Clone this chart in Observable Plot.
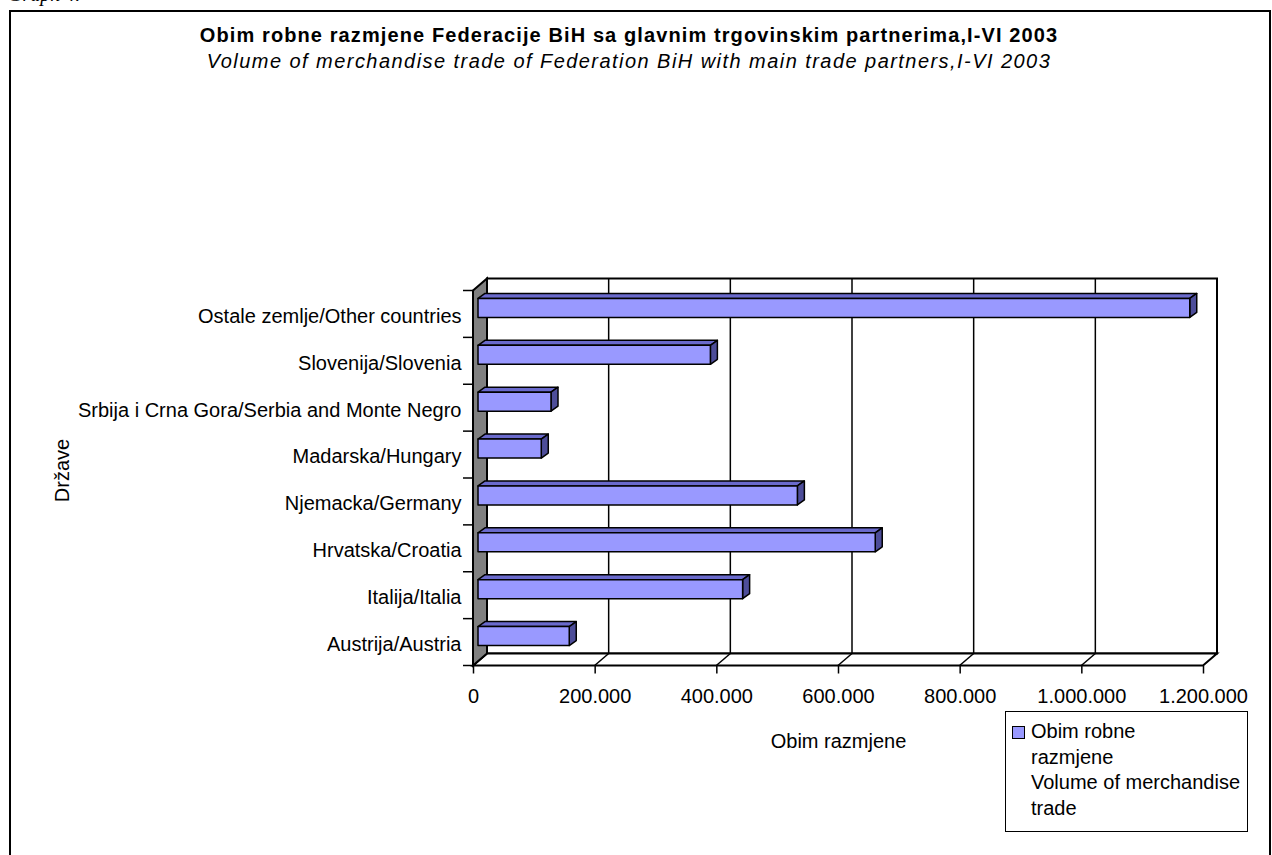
<!DOCTYPE html>
<html>
<head>
<meta charset="utf-8">
<script src="https://cdn.jsdelivr.net/npm/d3@7"></script>
<script src="https://cdn.jsdelivr.net/npm/@observablehq/plot@0.6"></script>
<style>
  html, body { margin: 0; padding: 0; background: #fff; }
  body { font-family: "Liberation Sans", Arial, sans-serif; color: #000; }
  #wrap { position: relative; width: 1272px; height: 855px; overflow: hidden; background: #fff; }
  #frame { position: absolute; left: 9px; top: 10px; width: 1258px; height: 870px; border: 2px solid #000; }
  #graphno { position: absolute; left: 8px; top: -17px; font-family: "Liberation Serif", "Times New Roman", serif; font-style: italic; font-size: 20px; }
  #title { position: absolute; left: 0; width: 1258px; top: 24px; text-align: center; font-weight: bold; font-size: 20px; letter-spacing: 1.1px; }
  #subtitle { position: absolute; left: 0; width: 1258px; top: 50px; text-align: center; font-style: italic; font-size: 20px; letter-spacing: 1.45px; }
  #chart { position: absolute; left: 0; top: 0; }
  #legend { position: absolute; left: 1005px; top: 711px; width: 241px; height: 119px; border: 1.5px solid #000; background: #fff; font-size: 20px; }
  #legend .sw { position: absolute; left: 6px; top: 14px; width: 11px; height: 11px; border: 1px solid #000; background: #9999ff; }
  #legend .txt { position: absolute; left: 25px; top: 7px; line-height: 25.7px; white-space: nowrap; }
</style>
</head>
<body>
<div id="wrap">
  <div id="frame"></div>
  <div id="graphno">Graph 4.</div>
  <div id="chart"></div>
  <div id="title"></div>
  <div id="subtitle"></div>
  <div id="legend"><div class="sw"></div><div class="txt"></div></div>
</div>
<script>
// ---------- data ----------
const titleText = "Obim robne razmjene Federacije BiH sa glavnim trgovinskim partnerima,I-VI 2003";
const subtitleText = "Volume of merchandise trade of Federation BiH with main trade partners,I-VI 2003";
const categories = [
  "Ostale zemlje/Other countries",
  "Slovenija/Slovenia",
  "Srbija i Crna Gora/Serbia and Monte Negro",
  "Madarska/Hungary",
  "Njemacka/Germany",
  "Hrvatska/Croatia",
  "Italija/Italia",
  "Austrija/Austria"
];
const values = [1170000, 382000, 120000, 104000, 525000, 653000, 435000, 150000];
const xTicks = [0, 200000, 400000, 600000, 800000, 1000000, 1200000];
const xTitle = "Obim razmjene";
const yTitle = "Države";
const legendLines = ["Obim robne", "razmjene", "Volume of merchandise", "trade"];

// ---------- styling ----------
const BAR_FRONT = "#9999ff", BAR_TOP = "#6a6acc", BAR_SIDE = "#4d4d99";
const WALL = "#808080";
const DEPTH = {dx: 14, dy: -12};            // depth of the chart box (px)
const BAR = {fx: 5, fy: -6, dx: 7, dy: -5, h: 19}; // bar placement inside the box (px)

document.getElementById("title").textContent = titleText;
document.getElementById("subtitle").textContent = subtitleText;
document.querySelector("#legend .txt").innerHTML = legendLines.map(s => s.replace(/&/g, "&amp;")).join("<br>");

const fmt = d3.formatLocale({decimal: ",", thousands: ".", grouping: [3], currency: ["", ""]}).format(",");
const data = categories.map((c, i) => ({cat: c, value: values[i]}));

const NS = "http://www.w3.org/2000/svg";
function el(tag, attrs, parent) {
  const e = document.createElementNS(NS, tag);
  for (const k in attrs) e.setAttribute(k, attrs[k]);
  if (parent) parent.appendChild(e);
  return e;
}
const pts = a => a.map(p => p.join(",")).join(" ");

// 3-D box (walls, floor, gridlines, bars) drawn through Plot's scales
function box3d(index, scales, vals, dims) {
  const x = scales.x, y = scales.y;
  const x0 = x(xTicks[0]), x1 = x(xTicks[xTicks.length - 1]);
  const yTop = dims.marginTop, yBot = dims.height - dims.marginBottom;
  const bw = typeof y.bandwidth === "function" ? y.bandwidth() : (yBot - yTop) / categories.length;
  const {dx, dy} = DEPTH;
  const g = el("g", {});
  // back wall
  el("rect", {x: x0 + dx, y: yTop + dy, width: x1 - x0, height: yBot - yTop, fill: "#fff", stroke: "#000", "stroke-width": 2}, g);
  // gridlines on back wall
  for (const t of xTicks.slice(1, -1)) {
    el("line", {x1: x(t) + dx, x2: x(t) + dx, y1: yTop + dy, y2: yBot + dy, stroke: "#000", "stroke-width": 1.5}, g);
  }
  // floor
  el("polygon", {points: pts([[x0, yBot], [x0 + dx, yBot + dy], [x1 + dx, yBot + dy], [x1, yBot]]), fill: "#fff", stroke: "#000", "stroke-width": 2, "stroke-linejoin": "miter"}, g);
  for (const t of xTicks.slice(1, -1)) {
    el("line", {x1: x(t), x2: x(t) + dx, y1: yBot, y2: yBot + dy, stroke: "#000", "stroke-width": 1.5}, g);
  }
  // left wall
  el("polygon", {points: pts([[x0, yTop], [x0 + dx, yTop + dy], [x0 + dx, yBot + dy], [x0, yBot]]), fill: WALL, stroke: "#000", "stroke-width": 2}, g);
  // category ticks at band boundaries
  for (let i = 0; i <= categories.length; i++) {
    const yy = i < categories.length ? y(categories[i]) : yBot;
    el("line", {x1: x0 - 10, x2: x0, y1: yy, y2: yy, stroke: "#000", "stroke-width": 1.5}, g);
  }
  // bars
  for (const d of data) {
    const cy = y(d.cat) + bw / 2 + BAR.fy;
    const bx0 = x(0) + BAR.fx, bx1 = x(d.value) + BAR.fx;
    const t = cy - BAR.h / 2, b = cy + BAR.h / 2;
    const common = {stroke: "#000", "stroke-width": 1.5, "stroke-linejoin": "round"};
    el("polygon", {points: pts([[bx0, t], [bx0 + BAR.dx, t + BAR.dy], [bx1 + BAR.dx, t + BAR.dy], [bx1, t]]), fill: BAR_TOP, ...common}, g);
    el("polygon", {points: pts([[bx1, t], [bx1 + BAR.dx, t + BAR.dy], [bx1 + BAR.dx, b + BAR.dy], [bx1, b]]), fill: BAR_SIDE, ...common}, g);
    el("rect", {x: bx0, y: t, width: bx1 - bx0, height: BAR.h, fill: BAR_FRONT, ...common}, g);
  }
  return g;
}

const chart = Plot.plot({
  width: 1272,
  height: 855,
  marginLeft: 473,
  marginRight: 69,
  marginTop: 290.5,
  marginBottom: 189.5,
  style: {fontFamily: "'Liberation Sans', Arial, sans-serif", fontSize: "20px", background: "transparent", color: "#000", overflow: "visible"},
  x: {domain: [xTicks[0], xTicks[xTicks.length - 1]]},
  y: {type: "band", domain: categories, padding: 0, round: false},
  marks: [
    box3d,
    Plot.axisX(xTicks, {anchor: "bottom", tickFormat: fmt, tickSize: 8, tickPadding: 15, label: null, stroke: "#000", strokeWidth: 1.5, fill: "#000", fontSize: 20}),
    Plot.axisY({anchor: "left", tickSize: 0, tickPadding: 12, label: null, fill: "#000", fontSize: 20, dy: 2}),
    Plot.text([xTitle], {frameAnchor: "bottom", dy: 82, fill: "#000", fontSize: 20, letterSpacing: 0.5}),
    Plot.text([yTitle], {frameAnchor: "left", textAnchor: "middle", dx: -411, dy: -8, rotate: -90, fill: "#000", fontSize: 20})
  ]
});
document.getElementById("chart").appendChild(chart);
</script>
</body>
</html>
